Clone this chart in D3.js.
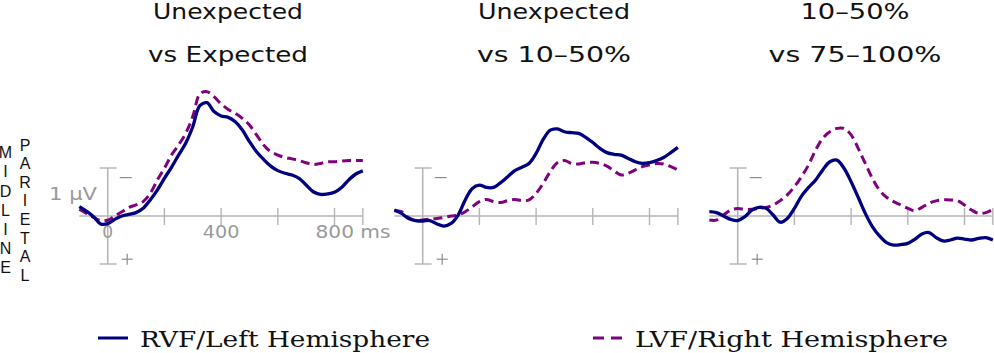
<!DOCTYPE html>
<html><head><meta charset="utf-8">
<script src="https://cdn.jsdelivr.net/npm/d3@7"></script>
<style>html,body{margin:0;padding:0;background:#fff;}svg{display:block;}</style>
</head><body>
<svg id="chart" width="994" height="353"></svg>
<script>
// ---- data (μV, negative plotted upward) ----
const times = [-100,-75,-50,-25,0,25,50,75,100,125,150,175,200,225,250,275,300,325,350,375,400,425,450,475,500,525,550,575,600,625,650,675,700,725,750,775,800,825,850,875,900];
const titles = [["Unexpected","vs Expected"],["Unexpected","vs 10–50%"],["10–50%","vs 75–100%"]];
const seriesNames = ["RVF/Left Hemisphere","LVF/Right Hemisphere"];
const rvf1 = [-0.39,-0.2,0.03,0.33,0.32,0.14,0,-0.07,-0.14,-0.32,-0.67,-1.08,-1.57,-2.03,-2.54,-3.03,-3.72,-4.6,-4.72,-4.35,-4.17,-4.11,-3.93,-3.58,-3.1,-2.68,-2.36,-2.08,-1.89,-1.78,-1.71,-1.57,-1.29,-1.01,-0.9,-0.92,-0.99,-1.19,-1.5,-1.75,-1.88];
const lvf1 = [-0.28,-0.11,0.06,0.19,0.17,0,-0.18,-0.36,-0.46,-0.6,-0.94,-1.5,-1.99,-2.54,-2.96,-3.44,-4.14,-5.08,-5.18,-4.97,-4.67,-4.44,-4.28,-4.07,-3.79,-3.38,-2.96,-2.68,-2.54,-2.44,-2.38,-2.31,-2.22,-2.15,-2.19,-2.26,-2.26,-2.29,-2.31,-2.31,-2.31];
const rvf2 = [-0.25,-0.11,0.1,0.19,0.21,0.19,0.33,0.42,0.31,-0.04,-0.67,-1.15,-1.29,-1.19,-1.19,-1.39,-1.64,-1.89,-2.03,-2.19,-2.61,-3.19,-3.58,-3.63,-3.51,-3.47,-3.44,-3.28,-3.06,-2.82,-2.64,-2.57,-2.54,-2.4,-2.26,-2.19,-2.22,-2.31,-2.44,-2.64,-2.86];
const lvf2 = [-0.22,-0.18,0.06,0.19,0.17,0.13,0.1,0.06,0,-0.04,-0.18,-0.39,-0.6,-0.69,-0.6,-0.56,-0.64,-0.69,-0.64,-0.67,-0.94,-1.36,-1.85,-2.22,-2.31,-2.19,-2.17,-2.22,-2.24,-2.19,-2.08,-1.88,-1.71,-1.78,-1.92,-2.06,-2.13,-2.19,-2.17,-2.06,-1.92];
const rvf3 = [-0.18,-0.14,0,0.14,0.19,0.03,-0.25,-0.36,-0.32,-0.04,0.26,0.1,-0.32,-0.83,-1.19,-1.5,-1.92,-2.26,-2.33,-1.99,-1.43,-0.78,-0.11,0.44,0.83,1.11,1.21,1.19,1.14,0.97,0.75,0.69,0.9,1.04,1.0,0.92,0.96,1.0,0.93,0.9,1.0];
const lvf3 = [0.17,0.17,-0.04,-0.25,-0.31,-0.28,-0.28,-0.32,-0.36,-0.46,-0.64,-0.88,-1.22,-1.64,-2.13,-2.75,-3.24,-3.51,-3.65,-3.65,-3.38,-2.82,-2.19,-1.57,-1.08,-0.78,-0.6,-0.46,-0.32,-0.22,-0.36,-0.53,-0.63,-0.67,-0.67,-0.64,-0.46,-0.25,-0.11,-0.14,-0.28];
const xTicks = [200,400,600,800,900];
const xTickLabels = [[0,"0"],[400,"400"],[800,"800 ms"]];
const leftLabel1 = "MIDLINE";
const leftLabel2 = "PARIETAL";

const rvfSeries = [rvf1, rvf2, rvf3];
const lvfSeries = [lvf1, lvf2, lvf3];

// ---- layout ----
const svg = d3.select("#chart");
const BLUE = "#000080", PURPLE = "#800080", AX = "#b4b4b4", AXT = "#8c8c8c";
const panelX0 = [107.7, 422.7, 737.7];
const titleCx = [228, 554, 855];
const titleW = [[150,160],[152,154],[109,173]];
const y = d3.scaleLinear().domain([-2, 2]).range([168, 264]);

panelX0.forEach((x0, i) => {
  const x = d3.scaleLinear().domain([0, 800]).range([x0, x0 + 226.8]);
  const g = svg.append("g");
  // titles
  titles[i].forEach((t, j) => {
    g.append("text").attr("x", titleCx[i]).attr("y", j === 0 ? 18.5 : 62)
      .attr("text-anchor", "middle").attr("font-family", "DejaVu Sans")
      .attr("font-size", 20.5).attr("fill", "#111")
      .attr("textLength", titleW[i][j]).attr("lengthAdjust", "spacingAndGlyphs")
      .text(t);
  });
  // horizontal axis
  g.append("line").attr("x1", x(-100)).attr("x2", x(900)).attr("y1", y(0)).attr("y2", y(0))
    .attr("stroke", AX).attr("stroke-width", 1.6);
  g.selectAll(".xt").data(xTicks).enter().append("line")
    .attr("x1", d => x(d)).attr("x2", d => x(d)).attr("y1", y(0) - 8).attr("y2", y(0) + 9)
    .attr("stroke", AX).attr("stroke-width", 1.4);
  // vertical calibration axis
  g.append("line").attr("x1", x(0)).attr("x2", x(0)).attr("y1", y(-2)).attr("y2", y(2))
    .attr("stroke", AX).attr("stroke-width", 1.6);
  [-2, 2].forEach(v => g.append("line").attr("x1", x(0) - 8).attr("x2", x(0) + 9)
    .attr("y1", y(v)).attr("y2", y(v)).attr("stroke", AX).attr("stroke-width", 1.4));
  g.append("line").attr("x1", x(0) + 12).attr("x2", x(0) + 24).attr("y1", y(-1.6)).attr("y2", y(-1.6))
    .attr("stroke", AXT).attr("stroke-width", 1.2);
  g.append("line").attr("x1", x(0) + 14).attr("x2", x(0) + 25).attr("y1", y(1.8)).attr("y2", y(1.8))
    .attr("stroke", AXT).attr("stroke-width", 1.2);
  g.append("line").attr("x1", x(0) + 19.5).attr("x2", x(0) + 19.5).attr("y1", y(1.8) - 5.5).attr("y2", y(1.8) + 5.5)
    .attr("stroke", AXT).attr("stroke-width", 1.2);
  if (i === 0) {
    g.append("text").attr("x", 49).attr("y", 200).attr("font-family", "DejaVu Sans").attr("font-size", 18)
      .attr("fill", "#999").attr("textLength", 48).attr("lengthAdjust", "spacingAndGlyphs").text("1 μV");
    xTickLabels.forEach(([t, lab]) => {
      const txt = g.append("text").attr("y", 237.5).attr("font-family", "DejaVu Sans").attr("font-size", 17)
        .attr("fill", "#999").text(lab);
      if (lab.indexOf("ms") >= 0) txt.attr("x", x(t) - 19).attr("textLength", 75).attr("lengthAdjust", "spacingAndGlyphs");
      else txt.attr("x", x(t)).attr("text-anchor", "middle");
      if (lab === "400") txt.attr("textLength", 36.6).attr("lengthAdjust", "spacingAndGlyphs");
    });
  }
  const line = d3.line().x((d, k) => x(times[k])).y(d => y(d)).curve(d3.curveCatmullRom.alpha(0.5));
  g.append("path").attr("d", line(lvfSeries[i])).attr("fill", "none").attr("stroke", PURPLE)
    .attr("stroke-width", 3).attr("stroke-dasharray", "9,5");
  g.append("path").attr("d", line(rvfSeries[i])).attr("fill", "none").attr("stroke", BLUE)
    .attr("stroke-width", 3.3);
});

// left vertical labels
leftLabel1.split("").forEach((c, k) => svg.append("text").attr("x", 5.5).attr("y", 158.3 + k * 19.17)
  .attr("text-anchor", "middle").attr("font-family", "Liberation Sans").attr("font-size", 16).attr("fill", "#111").text(c));
leftLabel2.split("").forEach((c, k) => svg.append("text").attr("x", 25).attr("y", 150.7 + k * 18.57)
  .attr("text-anchor", "middle").attr("font-family", "Liberation Sans").attr("font-size", 16).attr("fill", "#111").text(c));

// legend
const lg = svg.append("g");
lg.append("line").attr("x1", 98).attr("x2", 128).attr("y1", 338).attr("y2", 338).attr("stroke", BLUE).attr("stroke-width", 3);
lg.append("text").attr("x", 140).attr("y", 347).attr("font-family", "DejaVu Serif").attr("font-size", 23)
  .attr("fill", "#111").attr("textLength", 290).attr("lengthAdjust", "spacingAndGlyphs").text(seriesNames[0]);
lg.append("line").attr("x1", 593).attr("x2", 622).attr("y1", 338).attr("y2", 338).attr("stroke", PURPLE)
  .attr("stroke-width", 3).attr("stroke-dasharray", "11,7");
lg.append("text").attr("x", 635).attr("y", 347).attr("font-family", "DejaVu Serif").attr("font-size", 23)
  .attr("fill", "#111").attr("textLength", 313).attr("lengthAdjust", "spacingAndGlyphs").text(seriesNames[1]);
</script>
</body></html>
